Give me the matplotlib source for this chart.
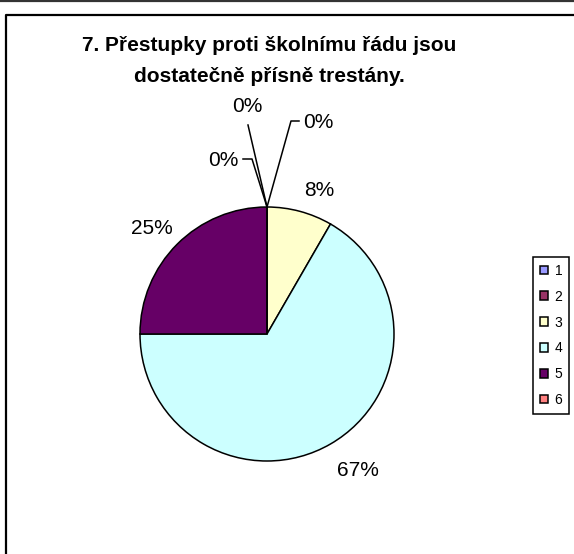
import matplotlib
matplotlib.use("Agg")
import matplotlib.pyplot as plt

plt.rcParams['font.family'] = ['Liberation Sans', 'DejaVu Sans']

# data
categories = ["1", "2", "3", "4", "5", "6"]
counts = [0, 0, 1, 8, 3, 0]
pct_labels = ["0%", "0%", "8%", "67%", "25%", "0%"]
colors = ["#9999FF", "#993366", "#FFFFCC", "#CCFFFF", "#660066", "#FF8080"]
title = "7. Přestupky proti školnímu řádu jsou\ndostatečně přísně trestány."

W, H = 574, 554
fig = plt.figure(figsize=(W / 100, H / 100), dpi=100)
ax = fig.add_axes([0, 0, 1, 1])
ax.set_xlim(0, W)
ax.set_ylim(0, H)


def Y(y):
    return H - y


# pie, clockwise from 12 o'clock like Excel
cx, cy, r = 267, Y(334), 127
wedges, _ = ax.pie(counts, colors=colors, startangle=90, counterclock=False,
                   center=(cx, cy), radius=r, frame=True,
                   wedgeprops=dict(edgecolor="black", linewidth=1.1))
ax.set_xlim(0, W)
ax.set_ylim(0, H)
ax.set_aspect("auto")
ax.axis("off")

# outer frame and top sheet line
ax.plot([0, W], [Y(1), Y(1)], color="#333333", lw=1.6, solid_capstyle="butt")
ax.plot([6, 6, W], [0, Y(15), Y(15)], color="black", lw=1.6)

ax.text(269, Y(61), title, ha="center", va="center", fontsize=15,
        fontweight="bold", linespacing=1.75)

# labels of the non-zero slices
label_pos = {2: (319, 190), 3: (358, 471), 4: (152, 228)}
for i, (x, y) in label_pos.items():
    ax.text(x, Y(y), pct_labels[i], ha="center", va="center", fontsize=15)

# zero slices with leader lines from the top of the pie
top = (cx, cy + r)
leaders = {
    0: [(291, 121), (299, 121)],
    1: [(248, 125)],
    5: [(252, 159), (243, 159)],
}
zero_text = {0: (318, 122), 1: (247, 107), 5: (223, 160)}
for i, pts in leaders.items():
    xs = [top[0]] + [p[0] for p in pts]
    ys = [top[1]] + [Y(p[1]) for p in pts]
    ax.plot(xs, ys, color="black", lw=1.1)
    tx, ty = zero_text[i]
    ax.text(tx, Y(ty), pct_labels[i], ha="center", va="center", fontsize=15)

leg = ax.legend(wedges, categories, loc="upper left",
                bbox_to_anchor=(533, Y(257)), bbox_transform=ax.transData,
                fontsize=10, handlelength=0.6, handleheight=0.6,
                handletextpad=0.45, labelspacing=0.85, borderpad=0.5,
                borderaxespad=0, fancybox=False, edgecolor="black",
                framealpha=1)
leg.get_frame().set_linewidth(1.1)

fig.savefig("out.png", dpi=100)
